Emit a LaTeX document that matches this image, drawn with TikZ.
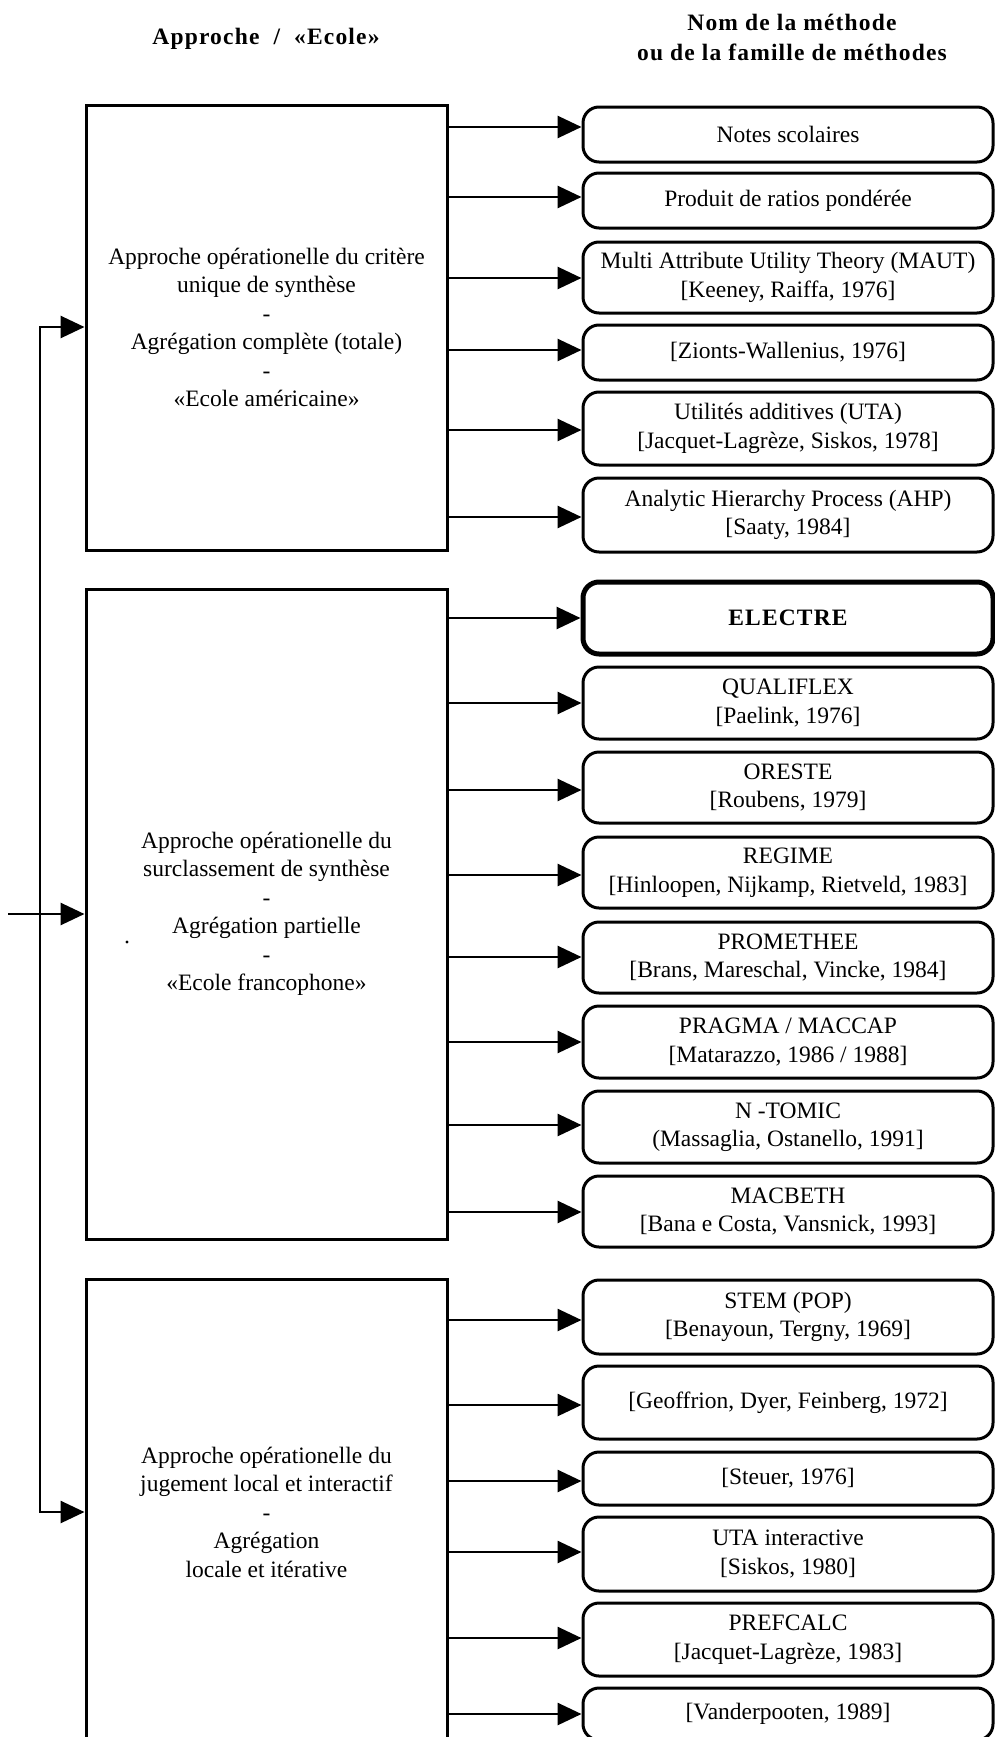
\documentclass[tikz,border=0pt]{standalone}
\usepackage{fontspec}
\setmainfont{Liberation Serif}
\newfontfamily\hdfont[LetterSpace=5]{Liberation Serif}
\usetikzlibrary{arrows.meta}
\newcommand\bodyfont{\fontsize{23.5}{28.5}\selectfont}
\newcommand\RB[4]{\node[rbox, minimum height={#3-#2}] (#1) at (788,{(#2+#3)/2}) {#4};}
\newcommand\AR[3]{\draw[arr] (#1.east |- 0,#3) -- (#2.west |- 0,#3);}
\begin{document}
\begin{tikzpicture}[x=1pt,y=-1pt,
  lbox/.style={draw, line width=3pt, minimum width=361pt, align=center, inner sep=0pt, font=\bodyfont},
  rbox/.style={draw, line width=3pt, rounded corners=16pt, minimum width=410pt, align=center, inner sep=0pt, font=\bodyfont},
  thickbox/.style={line width=5pt},
  conn/.style={line width=2.8pt},
  arr/.style={conn, -{Triangle[length=24pt,width=22pt]}},
  hd/.style={font=\hdfont\bfseries\fontsize{23.5}{26}\selectfont, anchor=base, inner sep=0pt}]
\useasboundingbox (0,0) rectangle (995,1737);
\clip (0,0) rectangle (995,1737);
% headers
\node[hd] (h1) at (266,45) {Approche\ \ /\ \ «Ecole»};
\node[hd] (h2) at (792,31) {Nom de la méthode};
\node[hd] (h3) at (792,61) {ou de la famille de méthodes};
% left boxes
\node[lbox, minimum height=445pt] (L1) at (266.5,327.5) {Approche opérationelle du critère\\unique de synthèse\\-\\Agrégation complète (totale)\\-\\«Ecole américaine»};
\node[lbox, minimum height=650pt] (L2) at (266.5,914) {Approche opérationelle du\\surclassement de synthèse\\-\\Agrégation partielle\\-\\«Ecole francophone»};
\node[lbox, minimum height=466pt] (L3) at (266.5,1512) {Approche opérationelle du\\jugement local et interactif\\-\\Agrégation\\locale et itérative};
\fill (127,942) circle (1.7pt);
% section 1
\RB{a1}{107}{162}{Notes scolaires}
\RB{a2}{173}{228}{Produit de ratios pondérée}
\RB{a3}{242}{313}{Multi Attribute Utility Theory (MAUT)\\{}[Keeney, Raiffa, 1976]}
\RB{a4}{325}{380}{[Zionts-Wallenius, 1976]}
\RB{a5}{392}{465}{Utilités additives (UTA)\\{}[Jacquet-Lagrèze, Siskos, 1978]}
\RB{a6}{478}{552}{Analytic Hierarchy Process (AHP)\\{}[Saaty, 1984]}
% section 2
\node[rbox, thickbox, minimum height=72pt, font=\hdfont\bfseries\fontsize{23.5}{26}\selectfont] (b1) at (788,618) {ELECTRE};
\RB{b2}{667}{739}{QUALIFLEX\\{}[Paelink, 1976]}
\RB{b3}{752}{823}{ORESTE\\{}[Roubens, 1979]}
\RB{b4}{837}{908}{REGIME\\{}[Hinloopen, Nijkamp, Rietveld, 1983]}
\RB{b5}{922}{993}{PROMETHEE\\{}[Brans, Mareschal, Vincke, 1984]}
\RB{b6}{1006}{1078}{PRAGMA / MACCAP\\{}[Matarazzo, 1986 / 1988]}
\RB{b7}{1091}{1163}{N -TOMIC\\(Massaglia, Ostanello, 1991]}
\RB{b8}{1176}{1247}{MACBETH\\{}[Bana e Costa, Vansnick, 1993]}
% section 3
\RB{c1}{1280}{1354}{STEM (POP)\\{}[Benayoun, Tergny, 1969]}
\RB{c2}{1366}{1439}{[Geoffrion, Dyer, Feinberg, 1972]}
\RB{c3}{1452}{1505}{[Steuer, 1976]}
\RB{c4}{1517}{1591}{UTA interactive\\{}[Siskos, 1980]}
\RB{c5}{1603}{1676}{PREFCALC\\{}[Jacquet-Lagrèze, 1983]}
\RB{c6}{1688}{1740}{[Vanderpooten, 1989]}
% connectors
\AR{L1}{a1}{127}\AR{L1}{a2}{197}\AR{L1}{a3}{278}\AR{L1}{a4}{350}\AR{L1}{a5}{430}\AR{L1}{a6}{517}
\AR{L2}{b1}{618}\AR{L2}{b2}{703}\AR{L2}{b3}{790}\AR{L2}{b4}{875}\AR{L2}{b5}{957}\AR{L2}{b6}{1042}\AR{L2}{b7}{1125}\AR{L2}{b8}{1212}
\AR{L3}{c1}{1320}\AR{L3}{c2}{1405}\AR{L3}{c3}{1481}\AR{L3}{c4}{1552}\AR{L3}{c5}{1638}\AR{L3}{c6}{1714}
% input bus
\coordinate (bt) at (40,327);
\coordinate (bb) at (40,1512);
\coordinate (in) at (8,914);
\draw[conn, line join=miter, {Triangle[length=24pt,width=22pt]}-{Triangle[length=24pt,width=22pt]}] (L1.west |- bt) -- (bt) -- (bb) -- (L3.west |- bb);
\draw[arr] (in) -- (L2.west |- in);
\end{tikzpicture}
\end{document}
